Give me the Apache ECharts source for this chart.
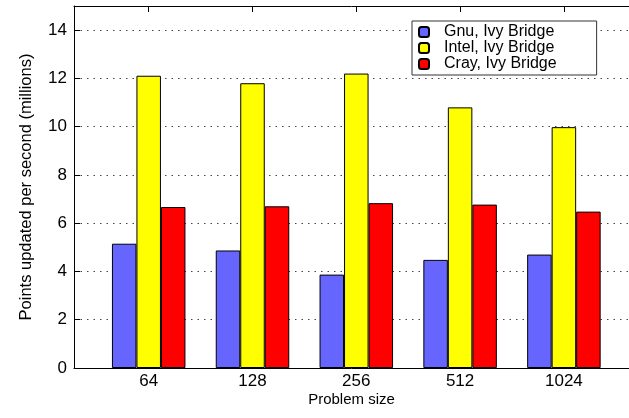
<!DOCTYPE html>
<html>
<head>
<meta charset="utf-8">
<script src="https://cdn.jsdelivr.net/npm/echarts@6/dist/echarts.min.js"></script>
<style>html,body{margin:0;padding:0;background:#fff}#c{width:629px;height:418px}</style>
</head>
<body>
<div id="c"></div>
<script>
var categories = ['64', '128', '256', '512', '1024'];
var gnuValues = [5.15, 4.87, 3.87, 4.48, 4.70];
var intelValues = [12.11, 11.80, 12.20, 10.80, 9.98];
var crayValues = [6.67, 6.70, 6.83, 6.77, 6.48];
var seriesNames = ['Gnu, Ivy Bridge', 'Intel, Ivy Bridge', 'Cray, Ivy Bridge'];
var yTicks = { min: 0, max: 15, interval: 2 };

var FONT = '"Liberation Sans", Arial, Helvetica, sans-serif';
var chart = echarts.init(document.getElementById('c'), null, { renderer: 'canvas' });
var colors = ['#6666ff', '#ffff00', '#ff0000'];
function barSeries(name, data, color) {
  return {
    name: name, type: 'bar', xAxisIndex: 2, yAxisIndex: 1, data: data,
    barWidth: 24.5, barGap: '0%',
    itemStyle: { color: color, borderColor: '#000', borderWidth: 1 }
  };
}
chart.setOption({
  animation: false,
  backgroundColor: '#fff',
  textStyle: { fontFamily: FONT },
  grid: [
    { left: 74, right: -21, top: 6, bottom: 50 },
    { left: 96.8, right: 13.2, top: 6, bottom: 50 }
  ],
  legend: {
    orient: 'vertical', left: 412, top: 21,
    padding: [3, 40, 3, 6], itemGap: 0,
    itemWidth: 10, itemHeight: 10,
    borderColor: '#333', borderWidth: 1, backgroundColor: '#fff',
    formatter: function (name) { return '{t|' + name + '}'; },
    textStyle: {
      fontSize: 16, color: '#000', fontFamily: FONT, lineHeight: 15,
      rich: { t: { fontSize: 16, lineHeight: 15, color: '#000', fontFamily: FONT, padding: [0, 0, 0, 10] } }
    },
    data: seriesNames
  },
  xAxis: [
    { gridIndex: 0, type: 'value', min: 0, max: 1, position: 'bottom',
      axisLine: { show: true, lineStyle: { color: '#000', width: 1 } },
      axisTick: { show: false }, axisLabel: { show: false }, splitLine: { show: false },
      name: 'Problem size', nameLocation: 'middle', nameGap: 24,
      nameTextStyle: { fontSize: 15, color: '#000', fontFamily: FONT } },
    { gridIndex: 0, type: 'value', min: 0, max: 1, position: 'top',
      axisLine: { show: true, lineStyle: { color: '#000', width: 1 } },
      axisTick: { show: false }, axisLabel: { show: false }, splitLine: { show: false } },
    { gridIndex: 1, type: 'category', data: categories, position: 'bottom',
      axisLine: { show: false }, axisTick: { show: false },
      axisLabel: { fontSize: 17, color: '#000', margin: 5, fontFamily: FONT } },
    { gridIndex: 1, type: 'category', data: categories, position: 'top',
      axisLine: { show: false },
      axisTick: { show: true, inside: true, alignWithLabel: true, length: 6, lineStyle: { color: '#000' } },
      axisLabel: { show: false } }
  ],
  yAxis: [
    { gridIndex: 0, type: 'value', min: yTicks.min, max: yTicks.max, interval: yTicks.interval,
      axisLine: { show: true, lineStyle: { color: '#000', width: 1 } },
      axisTick: { show: true, inside: true, length: 6, lineStyle: { color: '#000' } },
      axisLabel: { fontSize: 17, color: '#000', margin: 7, showMaxLabel: false, fontFamily: FONT },
      splitLine: { show: true, lineStyle: { color: '#444', width: 1, type: [1.5, 5] } },
      name: 'Points updated per second (millions)', nameLocation: 'middle', nameGap: 39,
      nameTextStyle: { fontSize: 16.5, color: '#000', fontFamily: FONT } },
    { gridIndex: 1, type: 'value', min: yTicks.min, max: yTicks.max, show: false, splitLine: { show: false } }
  ],
  series: [
    barSeries(seriesNames[0], gnuValues, colors[0]),
    barSeries(seriesNames[1], intelValues, colors[1]),
    barSeries(seriesNames[2], crayValues, colors[2])
  ]
});
</script>
</body>
</html>
